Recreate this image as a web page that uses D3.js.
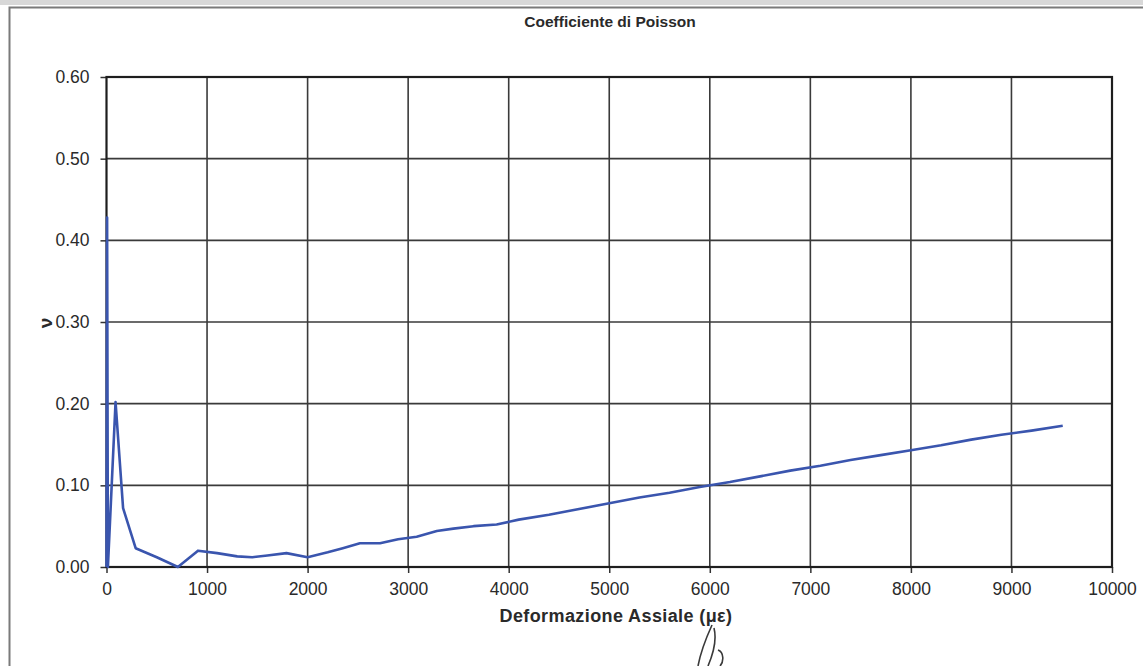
<!DOCTYPE html>
<html>
<head>
<meta charset="utf-8">
<script src="https://cdn.jsdelivr.net/npm/d3@7/dist/d3.min.js"></script>
<style>
  html, body { margin: 0; padding: 0; background: #ffffff; }
  svg { display: block; }
  text { font-family: "Liberation Sans", Arial, sans-serif; fill: #2a2a2a; }
</style>
</head>
<body>
<svg id="chart" width="1143" height="666"></svg>
<script>
// Axial strain (microstrain) and Poisson's ratio readings
const strain = [0, 6, 14, 90, 165, 290, 500, 710, 910, 1100, 1300, 1450, 1600, 1790, 2000,
  2200, 2350, 2520, 2720, 2900, 3085, 3285, 3450, 3650, 3880, 4100, 4400, 4700, 5000,
  5300, 5600, 5900, 6200, 6500, 6800, 7100, 7400, 7700, 8000, 8300, 8600, 8900, 9200, 9510];
const nu = [0, 0.428, 0, 0.202, 0.072, 0.023, 0.012, 0.0, 0.020, 0.017, 0.013, 0.012, 0.014, 0.017, 0.012,
  0.018, 0.023, 0.029, 0.029, 0.034, 0.037, 0.044, 0.047, 0.050, 0.052, 0.058, 0.064, 0.071, 0.078,
  0.085, 0.091, 0.098, 0.104, 0.111, 0.118, 0.124, 0.131, 0.137, 0.143, 0.149, 0.156, 0.162, 0.167, 0.173];

const xTicks = [0, 1000, 2000, 3000, 4000, 5000, 6000, 7000, 8000, 9000, 10000];
const yTicks = [0, 0.1, 0.2, 0.3, 0.4, 0.5, 0.6];

const titleText = "Coefficiente di Poisson";
const xTitle = "Deformazione Assiale (\u03bc\u03b5)";
const yTitle = "\u03bd";

const svg = d3.select("#chart");
const W = 1143, H = 666;
const plot = { left: 106.5, right: 1112, top: 77, bottom: 567 };

// page frame
svg.append("rect").attr("x", 0).attr("y", 0).attr("width", W).attr("height", 5).attr("fill", "#d8d8d8");
svg.append("rect")
  .attr("x", 9.5).attr("y", 7.5).attr("width", W + 20).attr("height", H + 20)
  .attr("fill", "#ffffff").attr("stroke", "#7a7a7a").attr("stroke-width", 2);

const x = d3.scaleLinear().domain([0, 10000]).range([plot.left, plot.right]);
const y = d3.scaleLinear().domain([0, 0.6]).range([plot.bottom, plot.top]);

// gridlines
const grid = svg.append("g").attr("stroke", "#3a3a3a").attr("stroke-width", 1.6);
grid.selectAll("line.v").data(xTicks.slice(1, -1)).join("line")
  .attr("x1", d => x(d)).attr("x2", d => x(d))
  .attr("y1", plot.top).attr("y2", plot.bottom);
grid.selectAll("line.h").data(yTicks.slice(1, -1)).join("line")
  .attr("y1", d => y(d)).attr("y2", d => y(d))
  .attr("x1", plot.left).attr("x2", plot.right);

// axes
const xAxis = svg.append("g")
  .attr("transform", `translate(0,${plot.bottom})`)
  .call(d3.axisBottom(x).tickValues(xTicks).tickSize(6).tickPadding(10).tickFormat(d3.format("d")));
const yAxis = svg.append("g")
  .attr("transform", `translate(${plot.left},0)`)
  .call(d3.axisLeft(y).tickValues(yTicks).tickSize(6).tickPadding(11).tickFormat(d3.format(".2f")));

[xAxis, yAxis].forEach(a => {
  a.select(".domain").remove();
  a.selectAll(".tick line").attr("stroke", "#333").attr("stroke-width", 1.5);
  a.selectAll(".tick text")
    .style("font-family", "'Liberation Sans', Arial, sans-serif")
    .style("font-size", "17.5px")
    .attr("fill", "#333333");
});

// plot border
svg.append("rect")
  .attr("x", plot.left).attr("y", plot.top)
  .attr("width", plot.right - plot.left).attr("height", plot.bottom - plot.top)
  .attr("fill", "none").attr("stroke", "#1e1e1e").attr("stroke-width", 2.2);

// data line
const pts = strain.map((s, i) => [s, nu[i]]);
svg.append("path")
  .datum(pts)
  .attr("fill", "none")
  .attr("stroke", "#3a55ae")
  .attr("stroke-width", 2.6)
  .attr("stroke-linejoin", "round")
  .attr("d", d3.line().x(d => x(d[0])).y(d => y(d[1])));

// titles
svg.append("text")
  .attr("x", 610).attr("y", 27)
  .attr("text-anchor", "middle")
  .style("font-size", "15.5px").style("font-weight", "bold")
  .text(titleText);

svg.append("text")
  .attr("x", 616).attr("y", 622)
  .attr("text-anchor", "middle")
  .style("font-size", "18px").style("font-weight", "bold")
  .style("letter-spacing", "0.4px")
  .text(xTitle);

svg.append("text")
  .attr("transform", "translate(52,323) rotate(-90)")
  .attr("text-anchor", "middle")
  .style("font-size", "19px").style("font-weight", "bold")
  .text(yTitle);

// pen stroke of the signature below the axis title
svg.append("path")
  .attr("d", "M712,625 C707,636 701,650 698,666 M714,628 C717,640 714,652 708,666 M718,650 C724,652 724,662 720,666")
  .attr("fill", "none").attr("stroke", "#3a3a3a").attr("stroke-width", 1.6);
</script>
</body>
</html>
